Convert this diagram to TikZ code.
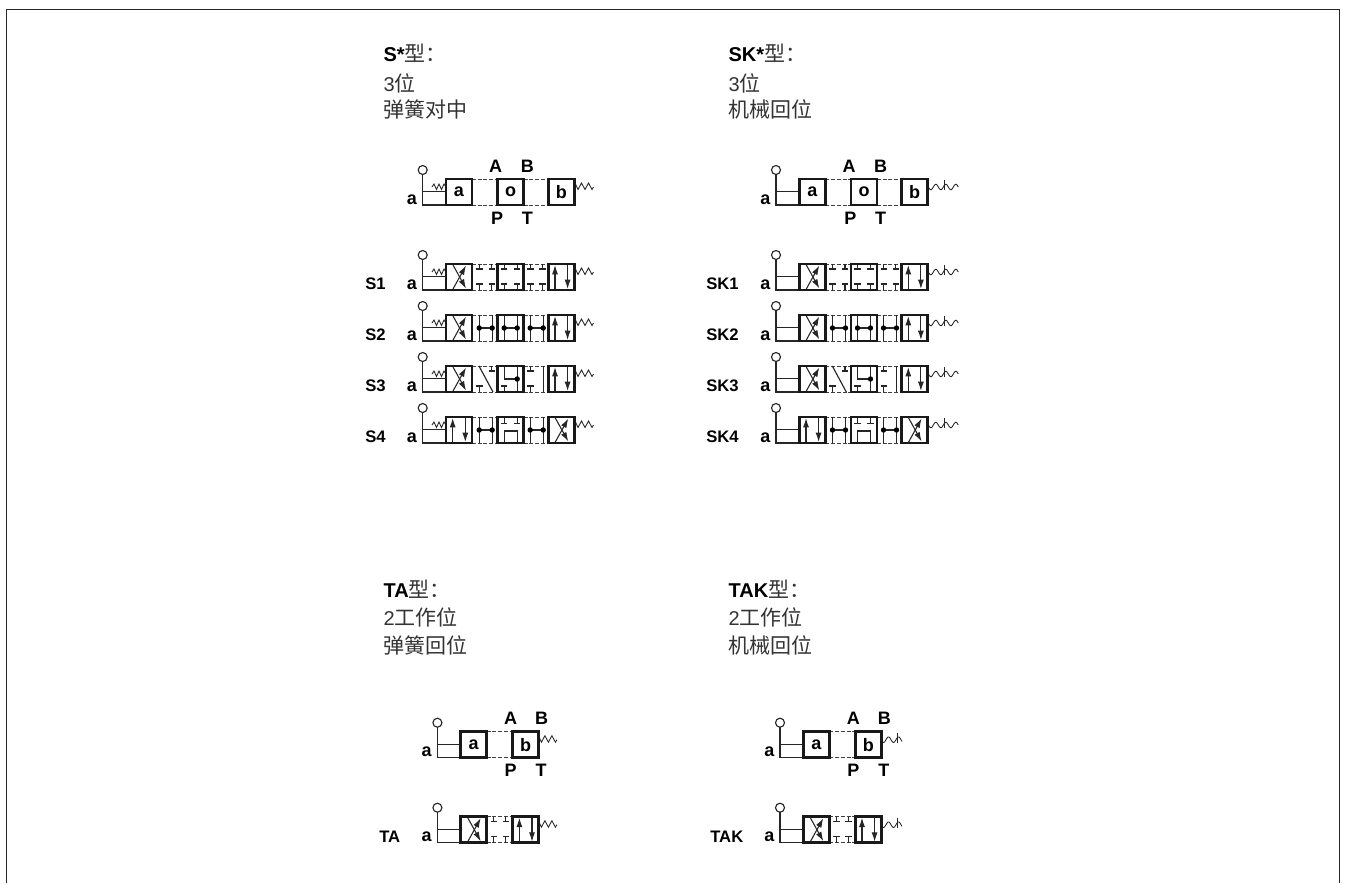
\documentclass[tikz,border=0pt]{standalone}
\usepackage{fontspec}
\setmainfont{Liberation Sans}
\newfontfamily\cjk[Scale=1.05]{Noto Sans CJK SC}
\usetikzlibrary{arrows.meta}
\tikzset{
  thinln/.style={line width=0.85pt,black!85},
  springln/.style={line width=0.65pt,black!85},
  boxln/.style={line width=1.9pt,black!90},
  dashln/.style={line width=0.7pt,black!75,dash pattern=on 3pt off 1.3pt},
  flowln/.style={line width=0.8pt,black!85,-{Latex[length=7pt,width=4.5pt]}},
  headtxt/.style={anchor=west,inner sep=0pt,font=\fontsize{15}{15}\selectfont,text=black!80},
  lbl/.style={inner sep=0pt,font=\fontsize{13.5}{13.5}\selectfont\bfseries,text=black},
  rowlbl/.style={anchor=west,inner sep=0pt,font=\fontsize{12.5}{12.5}\selectfont\bfseries,text=black},
}
% local origin of every symbol: top left corner of the first box
\newcommand{\lever}{
  \draw[thinln] (-23.3,-9) circle (4.5);
  \draw[thinln] (-23.3,-4.5) -- (-23.3,26) -- (0,26);
  \draw[thinln] (-23.3,12.7) -- (0,12.7);
}
\newcommand{\lspring}{
  \draw[springln] (-14,8) -- (-12,5) -- (-9.5,10.5) -- (-7,5) -- (-4.5,10.5) -- (-2,5) -- (0,8);
}
\newcommand{\rspring}[1]{
  \draw[springln] (#1,4) -- (#1+3,10.5) -- (#1+6.5,4) -- (#1+10,10.5) -- (#1+13.5,4) -- (#1+17,10.5) -- (#1+18.5,8);
}
\newcommand{\rwave}[1]{
  \draw[springln] plot[smooth,domain=0:30,samples=31] ({#1+\x},{8+2.8*sin(\x*36)});
  \draw[springln] (#1+16.3,1) -- (#1+16.3,10.5);
}
\newcommand{\rwaveshort}[1]{
  \draw[springln] plot[smooth,domain=0:21,samples=22] ({#1+\x},{8+2.8*sin(\x*36)});
  \draw[springln] (#1+16.3,1) -- (#1+16.3,11);
}
\newcommand{\pbox}[1]{\draw[boxln] (#1,0) rectangle (#1+26,26);}
\newcommand{\dashes}[2]{
  \draw[dashln] (#1,0) -- (#2,0);
  \draw[dashln] (#1,26) -- (#2,26);
}
\newcommand{\crossbox}[1]{
  \draw[flowln] (#1+7,25) -- (#1+20,1.5);
  \draw[flowln] (#1+7,1) -- (#1+20,24.5);
  \pbox{#1}
}
\newcommand{\straightbox}[1]{
  \draw[flowln] (#1+6.7,26) -- (#1+6.7,1);
  \draw[flowln] (#1+19.3,0) -- (#1+19.3,25);
  \pbox{#1}
}
\newcommand{\tee}[2]{ % upper and lower blocked port at x
  \ifnum#2>0 \draw[thinln] (#1,0) -- (#1,5) (#1-3.2,5) -- (#1+3.2,5);\fi
  \ifnum#2<2 \draw[thinln] (#1,26) -- (#1,20) (#1-3.2,20) -- (#1+3.2,20);\fi
}
\newcommand{\teebox}[1]{
  \tee{#1+6.5}{1}\tee{#1+19.5}{1}
  \pbox{#1}
}
\newcommand{\dotpair}[1]{
  \draw[thinln] (#1+6.5,0) -- (#1+6.5,26) (#1+19.5,0) -- (#1+19.5,26);
  \draw[thinln] (#1+6.5,13) -- (#1+19.5,13);
  \fill[black] (#1+6.5,13) circle (2.7) (#1+19.5,13) circle (2.7);
}
\newcommand{\dotbox}[1]{\dotpair{#1}\pbox{#1}}
\newcommand{\slantbox}[1]{
  \draw[thinln] (#1+6.5,0) -- (#1+6.5,13) -- (#1+19.5,13);
  \draw[thinln] (#1+19.5,0) -- (#1+19.5,26);
  \fill[black] (#1+19.5,13) circle (2.7);
  \tee{#1+6.5}{0}
  \pbox{#1}
}
\newcommand{\cupbox}[1]{
  \draw[thinln] (#1+6.5,0) -- (#1+6.5,6.5) (#1+3.3,6.5) -- (#1+9.7,6.5);
  \draw[thinln] (#1+19.5,0) -- (#1+19.5,6.5) (#1+16.3,6.5) -- (#1+22.7,6.5);
  \draw[thinln] (#1+6.5,26) -- (#1+6.5,14) -- (#1+19.5,14) -- (#1+19.5,26);
  \pbox{#1}
}
\begin{document}
\begin{tikzpicture}[x=0.75pt,y=-0.75pt]
\useasboundingbox (0,0) rectangle (1346,883);
\draw[line width=1.1pt,black!85] (6.5,883) -- (6.5,9.5) -- (1339.5,9.5) -- (1339.5,883);

% three position valves
\foreach \xo/\hdx/\lblx/\pre/\lend/\rend/\tag/\tagb in {446/383.3/365/S/\lspring/\rspring/弹簧对中/a,799.3/728.3/706/SK/\relax/\rwave/机械回位/b}{
  \node[headtxt] (head\tagb) at (\hdx,53.5) {{\bfseries\color{black}\pre*}{\cjk 型：}};
  \node[headtxt] (pos\tagb) at (\hdx,83) {3{\cjk 位}};
  \node[headtxt] (kind\tagb) at (\hdx,109.5) {\cjk \tag};
  \begin{scope}[shift={(\xo,179)}]
    \lever \lend \rend{129}
    \dashes{26}{51.7} \dashes{77.7}{102.3}
    \pbox{0} \pbox{51.7} \pbox{102.3}
    \node[lbl] (a\tagb) at (13,13) {a};
    \node[lbl] (o\tagb) at (64.7,13) {o};
    \node[lbl] (b\tagb) at (115.3,13) {b};
    \node[lbl] (lev\tagb) at (-34,21) {a};
    \node[lbl] (A\tagb) at (49.7,-12.3) {A};
    \node[lbl] (B\tagb) at (81.3,-12.3) {B};
    \node[lbl] (P\tagb) at (51,39.3) {P};
    \node[lbl] (T\tagb) at (81.3,39.3) {T};
  \end{scope}
  \foreach \ytop/\n in {264/1,315/2,366/3,417/4}{
    \node[rowlbl] (\pre\n) at (\lblx,\ytop+20) {\pre\n};
  }
  \begin{scope}[shift={(\xo,264)}]
    \lever \lend \rend{129}
    \dashes{26}{51.7} \dashes{77.7}{102.3}
    \node[lbl] (levi\tagb) at (-34,21) {a};
    \crossbox{0}
    \tee{33.3}{1}\tee{45.7}{1}
    \teebox{51.7}
    \tee{84.5}{1}\tee{96.5}{1}
    \straightbox{102.3}
  \end{scope}
  \begin{scope}[shift={(\xo,315)}]
    \lever \lend \rend{129}
    \dashes{26}{51.7} \dashes{77.7}{102.3}
    \node[lbl] (levii\tagb) at (-34,21) {a};
    \crossbox{0}
    \dotpair{26.7}
    \dotbox{51.7}
    \dotpair{77.7}
    \straightbox{102.3}
  \end{scope}
  \begin{scope}[shift={(\xo,366)}]
    \lever \lend \rend{129}
    \dashes{26}{51.7} \dashes{77.7}{102.3}
    \node[lbl] (leviii\tagb) at (-34,21) {a};
    \crossbox{0}
    \draw[thinln] (33,0) -- (47,26);
    \tee{45.7}{2}\tee{33.3}{0}
    \slantbox{51.7}
    \tee{84.5}{1}
    \draw[thinln] (97.5,0) -- (97.5,26);
    \straightbox{102.3}
  \end{scope}
  \begin{scope}[shift={(\xo,417)}]
    \lever \lend \rend{129}
    \dashes{26}{51.7} \dashes{77.7}{102.3}
    \node[lbl] (leviv\tagb) at (-34,21) {a};
    \straightbox{0}
    \dotpair{26.7}
    \cupbox{51.7}
    \dotpair{77.7}
    \crossbox{102.3}
  \end{scope}
}

% two position valves
\foreach \xo/\hdx/\lblx/\pre/\rend/\tag/\tagb in {460.7/383.3/379/TA/\rspring/弹簧回位/c,803.3/728.3/710/TAK/\rwaveshort/机械回位/d}{
  \node[headtxt] (head\tagb) at (\hdx,589) {{\bfseries\color{black}\pre}{\cjk 型：}};
  \node[headtxt] (pos\tagb) at (\hdx,617) {2{\cjk 工作位}};
  \node[headtxt] (kind\tagb) at (\hdx,645) {\cjk \tag};
  \begin{scope}[shift={(\xo,731.7)}]
    \lever \rend{77.7}
    \dashes{26}{52}
    \pbox{0} \pbox{52}
    \node[lbl] (a\tagb) at (13,13) {a};
    \node[lbl] (b\tagb) at (65,13) {b};
    \node[lbl] (lev\tagb) at (-34,20) {a};
    \node[lbl] (A\tagb) at (50,-13.4) {A};
    \node[lbl] (B\tagb) at (81,-13.4) {B};
    \node[lbl] (P\tagb) at (50,38.3) {P};
    \node[lbl] (T\tagb) at (80.5,38.3) {T};
  \end{scope}
  \node[rowlbl] (\pre row) at (\lblx,836.7) {\pre};
  \begin{scope}[shift={(\xo,816.7)}]
    \lever \rend{77.7}
    \dashes{26}{52}
    \node[lbl] (levi\tagb) at (-34,20) {a};
    \crossbox{0}
    \tee{33}{1}\tee{45}{1}
    \straightbox{52}
  \end{scope}
}
\end{tikzpicture}
\end{document}
